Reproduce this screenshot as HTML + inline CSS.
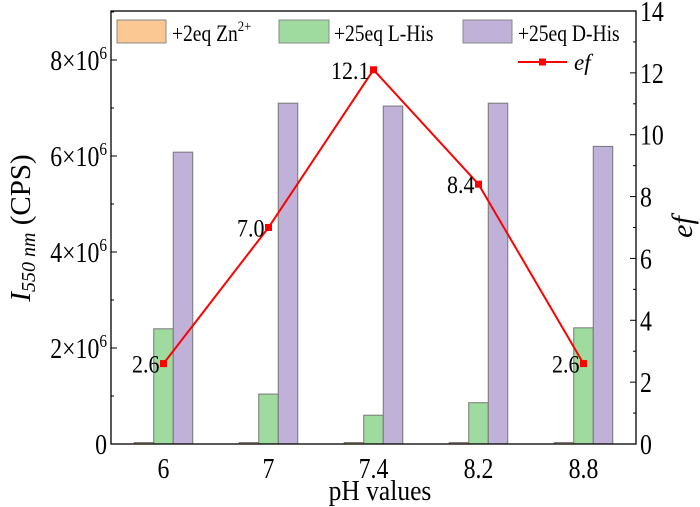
<!DOCTYPE html>
<html><head><meta charset="utf-8"><style>
body{margin:0;background:#fff}
svg{display:block;font-family:"Liberation Serif",serif}
</style></head><body>
<svg id="c" width="700" height="507"></svg>
<script>
const categories=["6","7","7.4","8.2","8.8"];
const znValues=[0.03e6,0.03e6,0.03e6,0.03e6,0.03e6];
const lHisValues=[2.4e6,1.04e6,0.6e6,0.86e6,2.42e6];
const dHisValues=[6.08e6,7.1e6,7.04e6,7.1e6,6.2e6];
const efValues=[2.6,7.0,12.1,8.4,2.6];
const leftTicks=[0,2e6,4e6,6e6,8e6];
const leftTickLabels=["0","2×10<tspan dy='-11' font-size='18'>6</tspan>","4×10<tspan dy='-11' font-size='18'>6</tspan>","6×10<tspan dy='-11' font-size='18'>6</tspan>","8×10<tspan dy='-11' font-size='18'>6</tspan>"];
const rightTicks=[0,2,4,6,8,10,12,14];

const NS="http://www.w3.org/2000/svg";
const svg=document.getElementById('c');
const L=111,R=636,T=11,B=444;
const band=(R-L)/categories.length;
const xC=i=>L+band*(i+0.5);
const yL=v=>B-(v/8e6)*(B-60);
const yR=v=>B-(v/14)*(B-T);
function mk(tag,attrs,parent){const e=document.createElementNS(NS,tag);for(const k in attrs)e.setAttribute(k,attrs[k]);(parent||svg).appendChild(e);return e;}

const bw=19.5;
const series=[[znValues,"#fbc894","zn"],[lHisValues,"#9fdb9f","l-his"],[dHisValues,"#c0b1d8","d-his"]];
categories.forEach((c,i)=>{
  series.forEach((s,j)=>{
    const x=xC(i)+(j-1)*bw-bw/2;
    const y=yL(s[0][i]);
    const r=mk('rect',{x:x,y:y,width:bw,height:B-y,fill:s[1],stroke:"#777","stroke-width":1});
    
    
  });
  const t=mk('text',{x:xC(i),y:B+34,"text-anchor":"middle","font-size":28,transform:"translate("+xC(i)+",0) scale(0.85,1) translate("+(-xC(i))+",0)"});
  t.textContent=c;
  
  
});
const fr=mk('rect',{x:L,y:T,width:R-L,height:B-T,fill:"none",stroke:"#000","stroke-width":1.3});


leftTicks.forEach((v,i)=>{
  mk('line',{x1:L,x2:L+6,y1:yL(v),y2:yL(v),stroke:"#000"});
  mk('line',{x1:L,x2:L+3,y1:yL(v+1e6),y2:yL(v+1e6),stroke:"#000"});
  const t=mk('text',{x:L-4,y:yL(v)+10,"text-anchor":"end","font-size":28,transform:"translate("+(L-4)+",0) scale(0.85,1) translate("+(-(L-4))+",0)"});
  t.innerHTML=leftTickLabels[i];
  
  
});
rightTicks.forEach(v=>{
  mk('line',{x1:R,x2:R-6,y1:yR(v),y2:yR(v),stroke:"#000"});
  if(v<14)mk('line',{x1:R,x2:R-3,y1:yR(v+1),y2:yR(v+1),stroke:"#000"});
  const t=mk('text',{x:R+4,y:yR(v)+10,"font-size":28,transform:"translate("+(R+4)+",0) scale(0.85,1) translate("+(-(R+4))+",0)"});
  t.textContent=v;
  
  
});
const pts=efValues.map((v,i)=>xC(i)+','+yR(v)).join(' ');
const pl=mk('polyline',{points:pts,fill:"none",stroke:"#f00","stroke-width":2});


efValues.forEach((v,i)=>{
  const m=mk('rect',{x:xC(i)-3.5,y:yR(v)-3.5,width:7,height:7,fill:"#f00"});
  
  
  const xx=xC(i)-4;
  const t=mk('text',{x:xx,y:yR(v)+9,"text-anchor":"end","font-size":25,transform:"translate("+xx+",0) scale(0.88,1) translate("+(-xx)+",0)"});
  t.textContent=v.toFixed(1);
  
  
});
</script>
<div style="position:absolute;left:0;top:0">
<svg width="700" height="507" style="font-family:'Liberation Serif',serif">
<g font-size="23">
<rect x="117" y="20" width="49" height="23" fill="#fbc894" stroke="#888"/>
<text x="172" y="41" transform="translate(172,0) scale(0.85,1) translate(-172,0)">+2eq Zn<tspan dy="-10" font-size="15">2+</tspan></text>
<rect x="279" y="20" width="50" height="23" fill="#9fdb9f" stroke="#888"/>
<text x="334" y="41" transform="translate(334,0) scale(0.85,1) translate(-334,0)">+25eq L-His</text>
<rect x="463" y="20" width="49" height="23" fill="#c0b1d8" stroke="#888"/>
<text x="518" y="41" transform="translate(518,0) scale(0.85,1) translate(-518,0)">+25eq D-His</text>
<line x1="518" x2="567" y1="62" y2="62" stroke="#f00" stroke-width="2"/>
<rect x="539" y="58.5" width="7" height="7" fill="#f00"/>
<text x="574" y="70" font-style="italic">ef</text>
</g>
<text x="380" y="500" text-anchor="middle" font-size="29" transform="translate(380,0) scale(0.88,1) translate(-380,0)">pH values</text>
<text transform="translate(30,228) rotate(-90)" text-anchor="middle" font-size="29"><tspan font-style="italic">I</tspan><tspan font-style="italic" font-size="20" dy="5">550 nm</tspan><tspan dy="-5"> (CPS)</tspan></text>
<text transform="translate(692,227) rotate(-90)" text-anchor="middle" font-size="30" font-style="italic">ef</text>
</svg></div>
</body></html>
